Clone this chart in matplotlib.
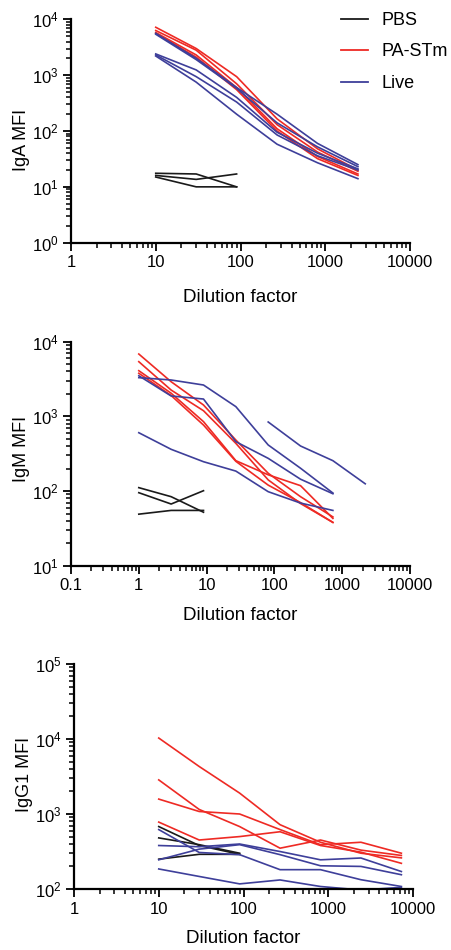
import math
import matplotlib
matplotlib.use("Agg")
import matplotlib.pyplot as plt
from matplotlib.ticker import FixedLocator, LogLocator, NullFormatter, FixedFormatter
from matplotlib.lines import Line2D

plt.rcParams['font.family'] = ['Liberation Sans', 'DejaVu Sans']
plt.rcParams['mathtext.fontset'] = 'custom'
plt.rcParams['mathtext.rm'] = 'Liberation Sans'
plt.rcParams['mathtext.it'] = 'Liberation Sans'
plt.rcParams['mathtext.bf'] = 'Liberation Sans'

# ---------------- data ----------------
groups = ["PBS", "PA-STm", "Live"]
colors = {"PBS": "#1a1a1a", "PA-STm": "#ee2a24", "Live": "#3e3f9a"}

# IgA panel
iga_dil = [10, 30, 90, 270, 810, 2430]
iga_pbs_dil = [10, 30, 90]
iga_pbs = [[17.5, 17, 10], [15, 10, 10], [16, 13.6, 17]]
iga_pa = [[7200, 3000, 940, 165, 48, 20],
          [6300, 2800, 700, 130, 42, 19],
          [5800, 2300, 600, 110, 35, 17],
          [5600, 2100, 550, 100, 32, 16]]
iga_live = [[5600, 2000, 600, 200, 60, 25],
            [5400, 1900, 580, 140, 52, 23],
            [2400, 1240, 400, 95, 40, 21],
            [2300, 940, 330, 85, 36, 20],
            [2200, 750, 200, 58, 27, 14]]

# IgM panel
igm_dil = [1, 3, 9, 27, 81, 243, 729]
igm_pbs_dil = [1, 3, 9]
igm_pbs = [[111, 84, 52], [95, 67, 101], [49, 55, 55]]
igm_pa = [[6840, 2910, 1420, 482, 173, 84, 45],
          [5400, 2250, 1190, 435, 141, 68, 38],
          [4090, 2040, 850, 255, 165, 118, 43],
          [3780, 1900, 765, 250, 120, 70, 38]]
igm_live = [[3300, 3070, 2630, 1350, 414, 202, 94],
            [3500, 1875, 1707, 458, 274, 144, 92],
            [604, 362, 247, 185, 98, 69, 55]]
igm_live_late_dil = [81, 243, 729, 2187]
igm_live_late = [841, 401, 255, 125]

# IgG1 panel
igg_dil = [10, 30, 90, 270, 810, 2430, 7290]
igg_pbs_dil = [10, 30, 90]
igg_pbs = [[680, 380, 290], [480, 390, 300], [250, 290, 290]]
igg_pa = [[10300, 4300, 1900, 720, 420, 300, 260],
          [2850, 1150, 680, 350, 450, 330, 280],
          [1580, 1080, 1000, 620, 390, 420, 300],
          [780, 450, 500, 580, 380, 310, 220]]
igg_live = [[620, 307, 287, 181, 181, 133, 108],
            [380, 366, 398, 316, 245, 259, 171],
            [245, 340, 390, 287, 204, 200, 155],
            [185, 147, 117, 132, 108, 97, 105]]

# ---------------- figure ----------------
W, H = 451, 950
fig = plt.figure(figsize=(W / 100, H / 100), dpi=100)


def px_axes(x0, x1, ytop, ybot):
    return fig.add_axes([x0 / W, 1 - ybot / H, (x1 - x0) / W, (ybot - ytop) / H])


LW = 1.2


def style(ax, xlim, ylim, xticks, xlabels, ylabel, xlab_y):
    ax.set_xscale('log')
    ax.set_yscale('log')
    ax.set_xlim(*xlim)
    ax.set_ylim(*ylim)
    for s in ['top', 'right']:
        ax.spines[s].set_visible(False)
    for s in ['left', 'bottom']:
        ax.spines[s].set_linewidth(1.6)
    ax.xaxis.set_major_locator(FixedLocator(xticks))
    ax.xaxis.set_major_formatter(FixedFormatter(xlabels))
    ax.xaxis.set_minor_locator(LogLocator(base=10, subs=range(2, 10)))
    ax.xaxis.set_minor_formatter(NullFormatter())
    lo, hi = int(round(math.log10(ylim[0]))), int(round(math.log10(ylim[1])))
    yt = [10 ** k for k in range(lo, hi + 1)]
    ax.yaxis.set_major_locator(FixedLocator(yt))
    ax.yaxis.set_major_formatter(FixedFormatter([r'$\mathregular{10^{%d}}$' % k for k in range(lo, hi + 1)]))
    ax.yaxis.set_minor_locator(LogLocator(base=10, subs=range(2, 10)))
    ax.yaxis.set_minor_formatter(NullFormatter())
    ax.tick_params(which='major', length=6, width=1.3, labelsize=12, pad=3, direction='out')
    ax.tick_params(which='minor', length=3.5, width=1.1, direction='out')
    ax.set_xlabel('Dilution factor', fontsize=13.5)
    ax.xaxis.set_label_coords(0.5, xlab_y)
    ax.set_ylabel(ylabel, fontsize=13)


def draw(ax, dil, pbs_dil, pbs, pa, live):
    for v in pbs:
        ax.plot(pbs_dil, v, color=colors["PBS"], lw=LW)
    for v in pa:
        ax.plot(dil, v, color=colors["PA-STm"], lw=LW)
    for v in live:
        ax.plot(dil, v, color=colors["Live"], lw=LW)


# Panel 1 : IgA
ax1 = px_axes(71, 410, 19.3, 242.7)
draw(ax1, iga_dil, iga_pbs_dil, iga_pbs, iga_pa, iga_live)
style(ax1, (1, 10000), (1, 1e4), [1, 10, 100, 1000, 10000],
      ['1', '10', '100', '1000', '10000'], 'IgA MFI', -0.206)
ax1.yaxis.set_label_coords(-0.121, 0.46)

handles = [Line2D([], [], color=colors[g], lw=1.3) for g in groups]
fig.legend(handles, groups, loc='upper left', frameon=False, fontsize=13,
           bbox_to_anchor=(341 / W, 1 - 12 / H), borderpad=0, handlelength=1.5,
           handletextpad=0.72, labelspacing=0.8, borderaxespad=0)

# Panel 2 : IgM
ax2 = px_axes(71, 410, 341.7, 565.7)
draw(ax2, igm_dil, igm_pbs_dil, igm_pbs, igm_pa, igm_live)
ax2.plot(igm_live_late_dil, igm_live_late, color=colors["Live"], lw=LW)
style(ax2, (0.1, 10000), (10, 1e4), [0.1, 1, 10, 100, 1000, 10000],
      ['0.1', '1', '10', '100', '1000', '10000'], 'IgM MFI', -0.183)
ax2.yaxis.set_label_coords(-0.121, 0.52)

# Panel 3 : IgG1
ax3 = px_axes(74, 413, 664, 889)
draw(ax3, igg_dil, igg_pbs_dil, igg_pbs, igg_pa, igg_live)
style(ax3, (1, 10000), (100, 1e5), [1, 10, 100, 1000, 10000],
      ['1', '10', '100', '1000', '10000'], 'IgG1 MFI', -0.182)
ax3.yaxis.set_label_coords(-0.121, 0.51)

fig.savefig('out.png', dpi=100)
